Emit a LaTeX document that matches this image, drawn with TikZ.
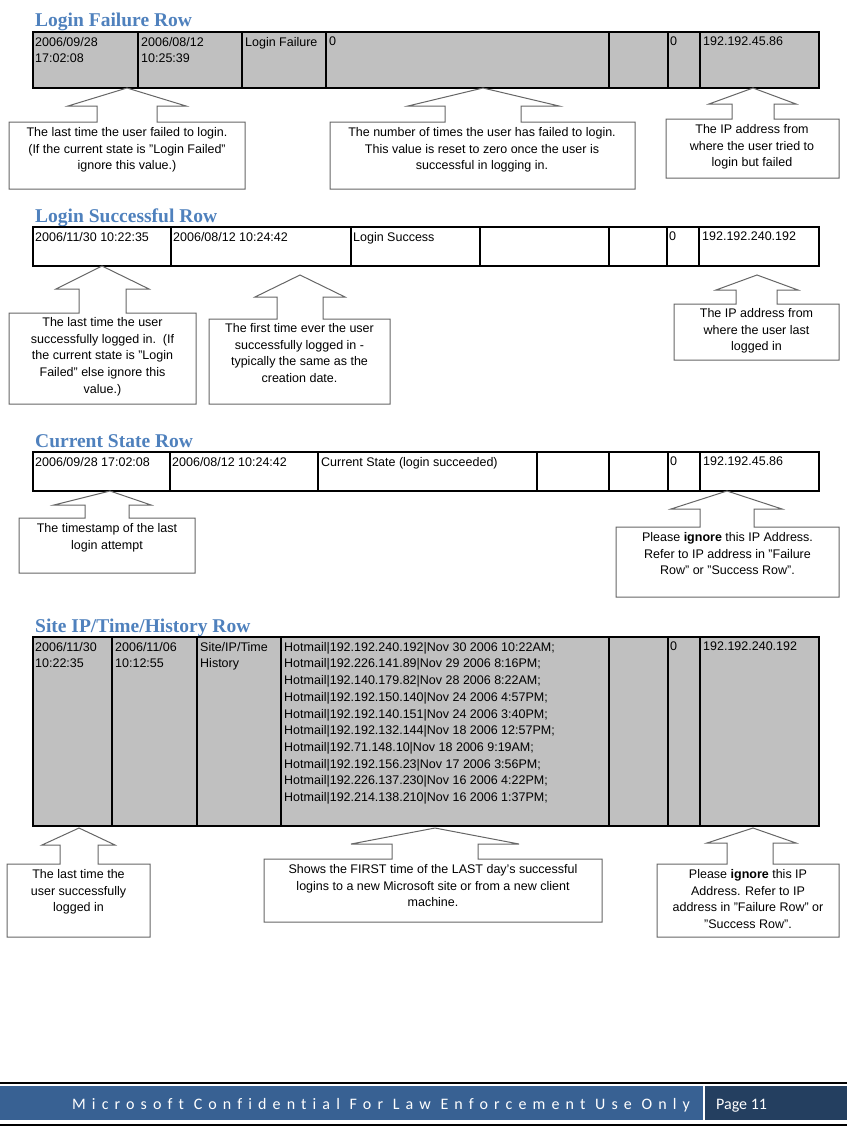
\documentclass[tikz,border=0pt]{standalone}
\usepackage{fontspec}
\setmainfont{Liberation Sans}
\newfontfamily\headfont{Liberation Serif}
\newfontfamily\footfont{Carlito}
\newfontfamily\footspaced[LetterSpace=38.3,Ligatures={NoCommon,NoRequired,NoContextual}]{Carlito}
\definecolor{headblue}{RGB}{79,129,189}
\definecolor{cellgray}{RGB}{192,192,192}
\definecolor{footblue}{RGB}{56,97,147}
\definecolor{footdark}{RGB}{36,63,96}
\begin{document}
\begin{tikzpicture}[x=1pt,y=-1pt,
  tbl/.style={draw=black, line width=2.5pt},
  tblline/.style={draw=black, line width=2.5pt},
  celltext/.style={anchor=north west, inner sep=0pt, font=\fontsize{12.5}{16.7}\selectfont, align=left},
  heading/.style={anchor=base west, inner sep=0pt, font=\headfont\bfseries\fontsize{19.5}{22}\selectfont, text=headblue},
  callout/.style={draw=black!60, line width=1pt, fill=white, line join=miter},
  ctext/.style={anchor=north, inner sep=0pt, font=\fontsize{12.5}{16.8}\selectfont, align=center},
  foot/.style={anchor=base west, inner sep=0pt, text=white}
]
\useasboundingbox (0,0) rectangle (847,1135);

% ---------------- Row 1: Login Failure ----------------
\node[heading] (h1) at (35,27) {Login Failure Row};
\fill[cellgray] (33,32) rectangle (819,88);
\draw[tbl] (33,32) rectangle (819,88);
\foreach \x in {138,242,326,609,668,700} \draw[tblline] (\x,32) -- (\x,88);
\node[celltext] (r1c1) at (35,37) {2006/09/28\\17:02:08};
\node[celltext] (r1c2) at (141,37) {2006/08/12\\10:25:39};
\node[celltext] (r1c3) at (245,37) {Login Failure};
\node[celltext] (r1c4) at (329,37) {0};
\node[celltext] (r1c7) at (670,37) {0};
\node[celltext] (r1c8) at (703,37) {192.192.45.86};

\draw[callout] (127,88) -- (186,106) -- (157,106) -- (157,122) -- (245,122) -- (245,189) -- (9,189) -- (9,122) -- (97,122) -- (97,106) -- (68,106) -- cycle;
\node[ctext] (c1) at (127,127) {The last time the user failed to login.\\(If the current state is "Login Failed"\\ignore this value.)};
\draw[callout] (483,88) -- (559,106) -- (521,106) -- (521,122) -- (635,122) -- (635,189) -- (330,189) -- (330,122) -- (445,122) -- (445,106) -- (408,106) -- cycle;
\node[ctext] (c2) at (482,127) {The number of times the user has failed to login.\\This value is reset to zero once the user is\\successful in logging in.};
\draw[callout] (753,88) -- (796,104) -- (774,104) -- (774,119) -- (839,119) -- (839,178) -- (666,178) -- (666,119) -- (732,119) -- (732,104) -- (709,104) -- cycle;
\node[ctext] (c3) at (752,124) {The IP address from\\where the user tried to\\login but failed};

% ---------------- Row 2: Login Successful ----------------
\node[heading] (h2) at (35,222) {Login Successful Row};
\draw[tbl] (33,227) rectangle (819,266);
\foreach \x in {171,351,480,609,667,699} \draw[tblline] (\x,227) -- (\x,266);
\node[celltext] (r2c1) at (35,232) {2006/11/30 10:22:35};
\node[celltext] (r2c2) at (173,232) {2006/08/12 10:24:42};
\node[celltext] (r2c3) at (353,232) {Login Success};
\node[celltext] (r2c7) at (669,232) {0};
\node[celltext] (r2c8) at (702,232) {192.192.240.192};

\draw[callout] (102,266) -- (149,289) -- (126,289) -- (126,313) -- (196,313) -- (196,404) -- (9,404) -- (9,313) -- (79,313) -- (79,289) -- (56,289) -- cycle;
\node[ctext] (c4) at (102.5,317) {The last time the user\\successfully logged in.~~(If\\the current state is "Login\\Failed" else ignore this\\value.)};
\draw[callout] (300,275) -- (345,297) -- (323,297) -- (323,319) -- (390,319) -- (390,404) -- (209,404) -- (209,319) -- (277,319) -- (277,297) -- (255,297) -- cycle;
\node[ctext] (c5) at (299.5,323) {The first time ever the user\\successfully logged in -\\typically the same as the\\creation date.};
\draw[callout] (757,275) -- (798,290) -- (777,290) -- (777,304) -- (839,304) -- (839,360) -- (674,360) -- (674,304) -- (736,304) -- (736,290) -- (716,290) -- cycle;
\node[ctext] (c6) at (756.5,308) {The IP address from\\where the user last\\logged in};

% ---------------- Row 3: Current State ----------------
\node[heading] (h3) at (35,447) {Current State Row};
\draw[tbl] (33,452) rectangle (819,491);
\foreach \x in {170,318,537,609,668,700} \draw[tblline] (\x,452) -- (\x,491);
\node[celltext] (r3c1) at (35,457) {2006/09/28 17:02:08};
\node[celltext] (r3c2) at (172,457) {2006/08/12 10:24:42};
\node[celltext] (r3c3) at (321,457) {Current State (login succeeded)};
\node[celltext] (r3c7) at (670,457) {0};
\node[celltext] (r3c8) at (703,457) {192.192.45.86};

\draw[callout] (110,491) -- (151,505) -- (129,505) -- (129,518) -- (195,518) -- (195,573) -- (19,573) -- (19,518) -- (85,518) -- (85,505) -- (54,505) -- cycle;
\node[ctext] (c7) at (107,523) {The timestamp of the last\\login attempt};
\draw[callout] (727,491) -- (782,509) -- (754,509) -- (754,527) -- (839,527) -- (839,597) -- (616,597) -- (616,527) -- (700,527) -- (700,509) -- (671,509) -- cycle;
\node[ctext] (c8) at (727.5,532) {Please \textbf{ignore} this IP Address.\\Refer to IP address in "Failure\\Row" or "Success Row".};

% ---------------- Row 4: Site IP/Time/History ----------------
\node[heading] (h4) at (35,632) {Site IP/Time/History Row};
\fill[cellgray] (33,637) rectangle (819,826);
\draw[tbl] (33,637) rectangle (819,826);
\foreach \x in {112,197,281,609,668,700} \draw[tblline] (\x,637) -- (\x,826);
\node[celltext] (r4c1) at (35,642) {2006/11/30\\10:22:35};
\node[celltext] (r4c2) at (115,642) {2006/11/06\\10:12:55};
\node[celltext] (r4c3) at (200,642) {Site/IP/Time\\History};
\node[celltext] (r4c4) at (284,642) {Hotmail|192.192.240.192|Nov 30 2006 10:22AM;\\
Hotmail|192.226.141.89|Nov 29 2006 8:16PM;\\
Hotmail|192.140.179.82|Nov 28 2006 8:22AM;\\
Hotmail|192.192.150.140|Nov 24 2006 4:57PM;\\
Hotmail|192.192.140.151|Nov 24 2006 3:40PM;\\
Hotmail|192.192.132.144|Nov 18 2006 12:57PM;\\
Hotmail|192.71.148.10|Nov 18 2006 9:19AM;\\
Hotmail|192.192.156.23|Nov 17 2006 3:56PM;\\
Hotmail|192.226.137.230|Nov 16 2006 4:22PM;\\
Hotmail|192.214.138.210|Nov 16 2006 1:37PM;};
\node[celltext] (r4c7) at (670,642) {0};
\node[celltext] (r4c8) at (703,642) {192.192.240.192};

\draw[callout] (79,828) -- (115,845) -- (98,845) -- (98,864) -- (150,864) -- (150,937) -- (7,937) -- (7,864) -- (60,864) -- (60,845) -- (42,845) -- cycle;
\node[ctext] (c9) at (78.5,869) {The last time the\\user successfully\\logged in};
\draw[callout] (435,828) -- (519,844) -- (478,844) -- (478,859) -- (602,859) -- (602,922) -- (264,922) -- (264,859) -- (392,859) -- (392,844) -- (351,844) -- cycle;
\node[ctext] (c10) at (433,864) {Shows the FIRST time of the LAST day's successful\\logins to a new Microsoft site or from a new client\\machine.};
\draw[callout] (753,828) -- (796,843) -- (773,843) -- (773,864) -- (839,864) -- (839,937) -- (657,937) -- (657,864) -- (727,864) -- (727,843) -- (707,843) -- cycle;
\node[ctext] (c11) at (748,869) {Please \textbf{ignore} this IP\\Address. Refer to IP\\address in "Failure Row" or\\"Success Row".};

% ---------------- Footer ----------------
\draw[line width=1.5pt] (0,1083) -- (847,1083);
\fill[footblue] (0,1086) rectangle (703,1120);
\fill[footdark] (705,1086) rectangle (847,1120);
\draw[line width=1.5pt] (0,1125) -- (847,1125);
\node[foot, font=\footspaced\fontsize{16}{18}\selectfont] (ft) at (72,1109) {Microsoft Confidential For Law Enforcement Use Only};
\node[foot, font=\footfont\fontsize{16}{18}\selectfont] (pg) at (716,1109) {Page 11};
\end{tikzpicture}
\end{document}
